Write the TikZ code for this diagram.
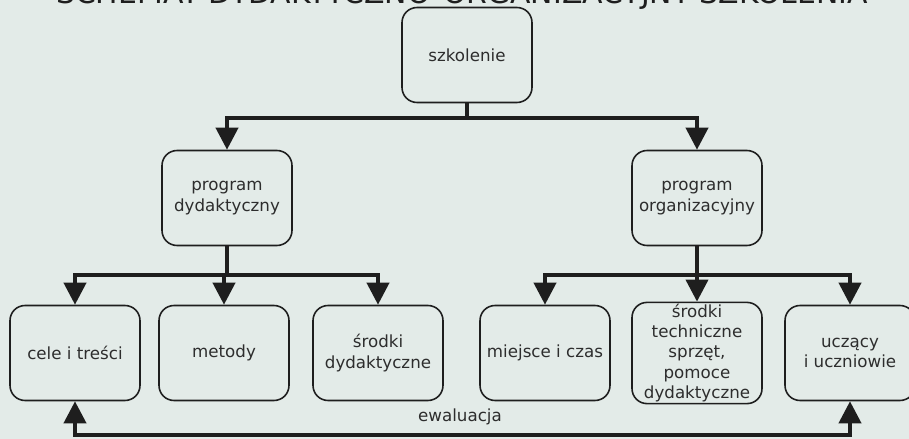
\documentclass[tikz,border=0pt]{standalone}
\usepackage{fontspec}
\setmainfont{DejaVu Sans}
\usepackage{tikz}
\usetikzlibrary{positioning}
\usetikzlibrary{arrows.meta}
\usetikzlibrary{shapes}
\definecolor{bgcol}{RGB}{227,235,232}
\definecolor{inkcol}{RGB}{30,30,30}
\definecolor{txtcol}{RGB}{45,45,45}
\tikzset{
  box/.style={draw=inkcol, line width=0.9pt, rounded corners=0.3cm,
    minimum width=2.6cm, minimum height=1.9cm, align=center,
    inner sep=1pt, text=txtcol, font=\fontsize{9.5}{11.5}\selectfont},
  conn/.style={draw=inkcol, line width=2.2pt},
  arr/.style={conn, -{Triangle[length=0.44cm, width=0.44cm]}},
  arrboth/.style={conn, {Triangle[length=0.44cm, width=0.44cm]}-{Triangle[length=0.44cm, width=0.44cm]}}
}
\begin{document}
\begin{tikzpicture}[x=0.02cm, y=-0.02cm]
  \useasboundingbox (0,0) rectangle (909,439);
  \clip (0,0) rectangle (909,439);
  \fill[bgcol] (0,0) rectangle (909,439);
  \node[anchor=base, text=inkcol, font=\fontsize{17}{20}\selectfont] (title) at (462,3.5)
    {SCHEMAT DYDAKTYCZNO-ORGANIZACYJNY SZKOLENIA};
  \node[box] (szk) at (467,55) {szkolenie};
  \node[box] (pd) at (227,198) {program\\dydaktyczny};
  \node[box] (po) at (697,198) {program\\organizacyjny};
  \foreach[count=\i] \name/\x/\txt in {cel/75/{cele i treści}, met/224/metody,
    srd/378/{środki\\dydaktyczne}, mie/545/{miejsce i czas},
    srt/697/{środki\\techniczne\\sprzęt,\\pomoce\\dydaktyczne}, ucz/850/{uczący\\i uczniowie}} {
    \node[box] (\name) at (\x,353) {\txt};
  }
  \coordinate (jt) at (467,118);
  \coordinate (jl) at (227,275);
  \coordinate (jr) at (697,275);
  \coordinate (ev) at (460,435);
  \draw[conn] (szk) -- (jt);
  \draw[arr] (jt) -| (pd);
  \draw[arr] (jt) -| (po);
  \draw[conn] (pd) -- (jl);
  \draw[conn] (po) -- (jr);
  \foreach \n in {cel,met,srd} \draw[arr] (jl) -| (\n);
  \foreach \n in {mie,srt,ucz} \draw[arr] (jr) -| (\n);
  \draw[arrboth] (cel) |- (ev) node[name=ewal, above=1pt, text=txtcol,
    font=\fontsize{9.5}{11.5}\selectfont] {ewaluacja} -| (ucz);
\end{tikzpicture}
\end{document}
